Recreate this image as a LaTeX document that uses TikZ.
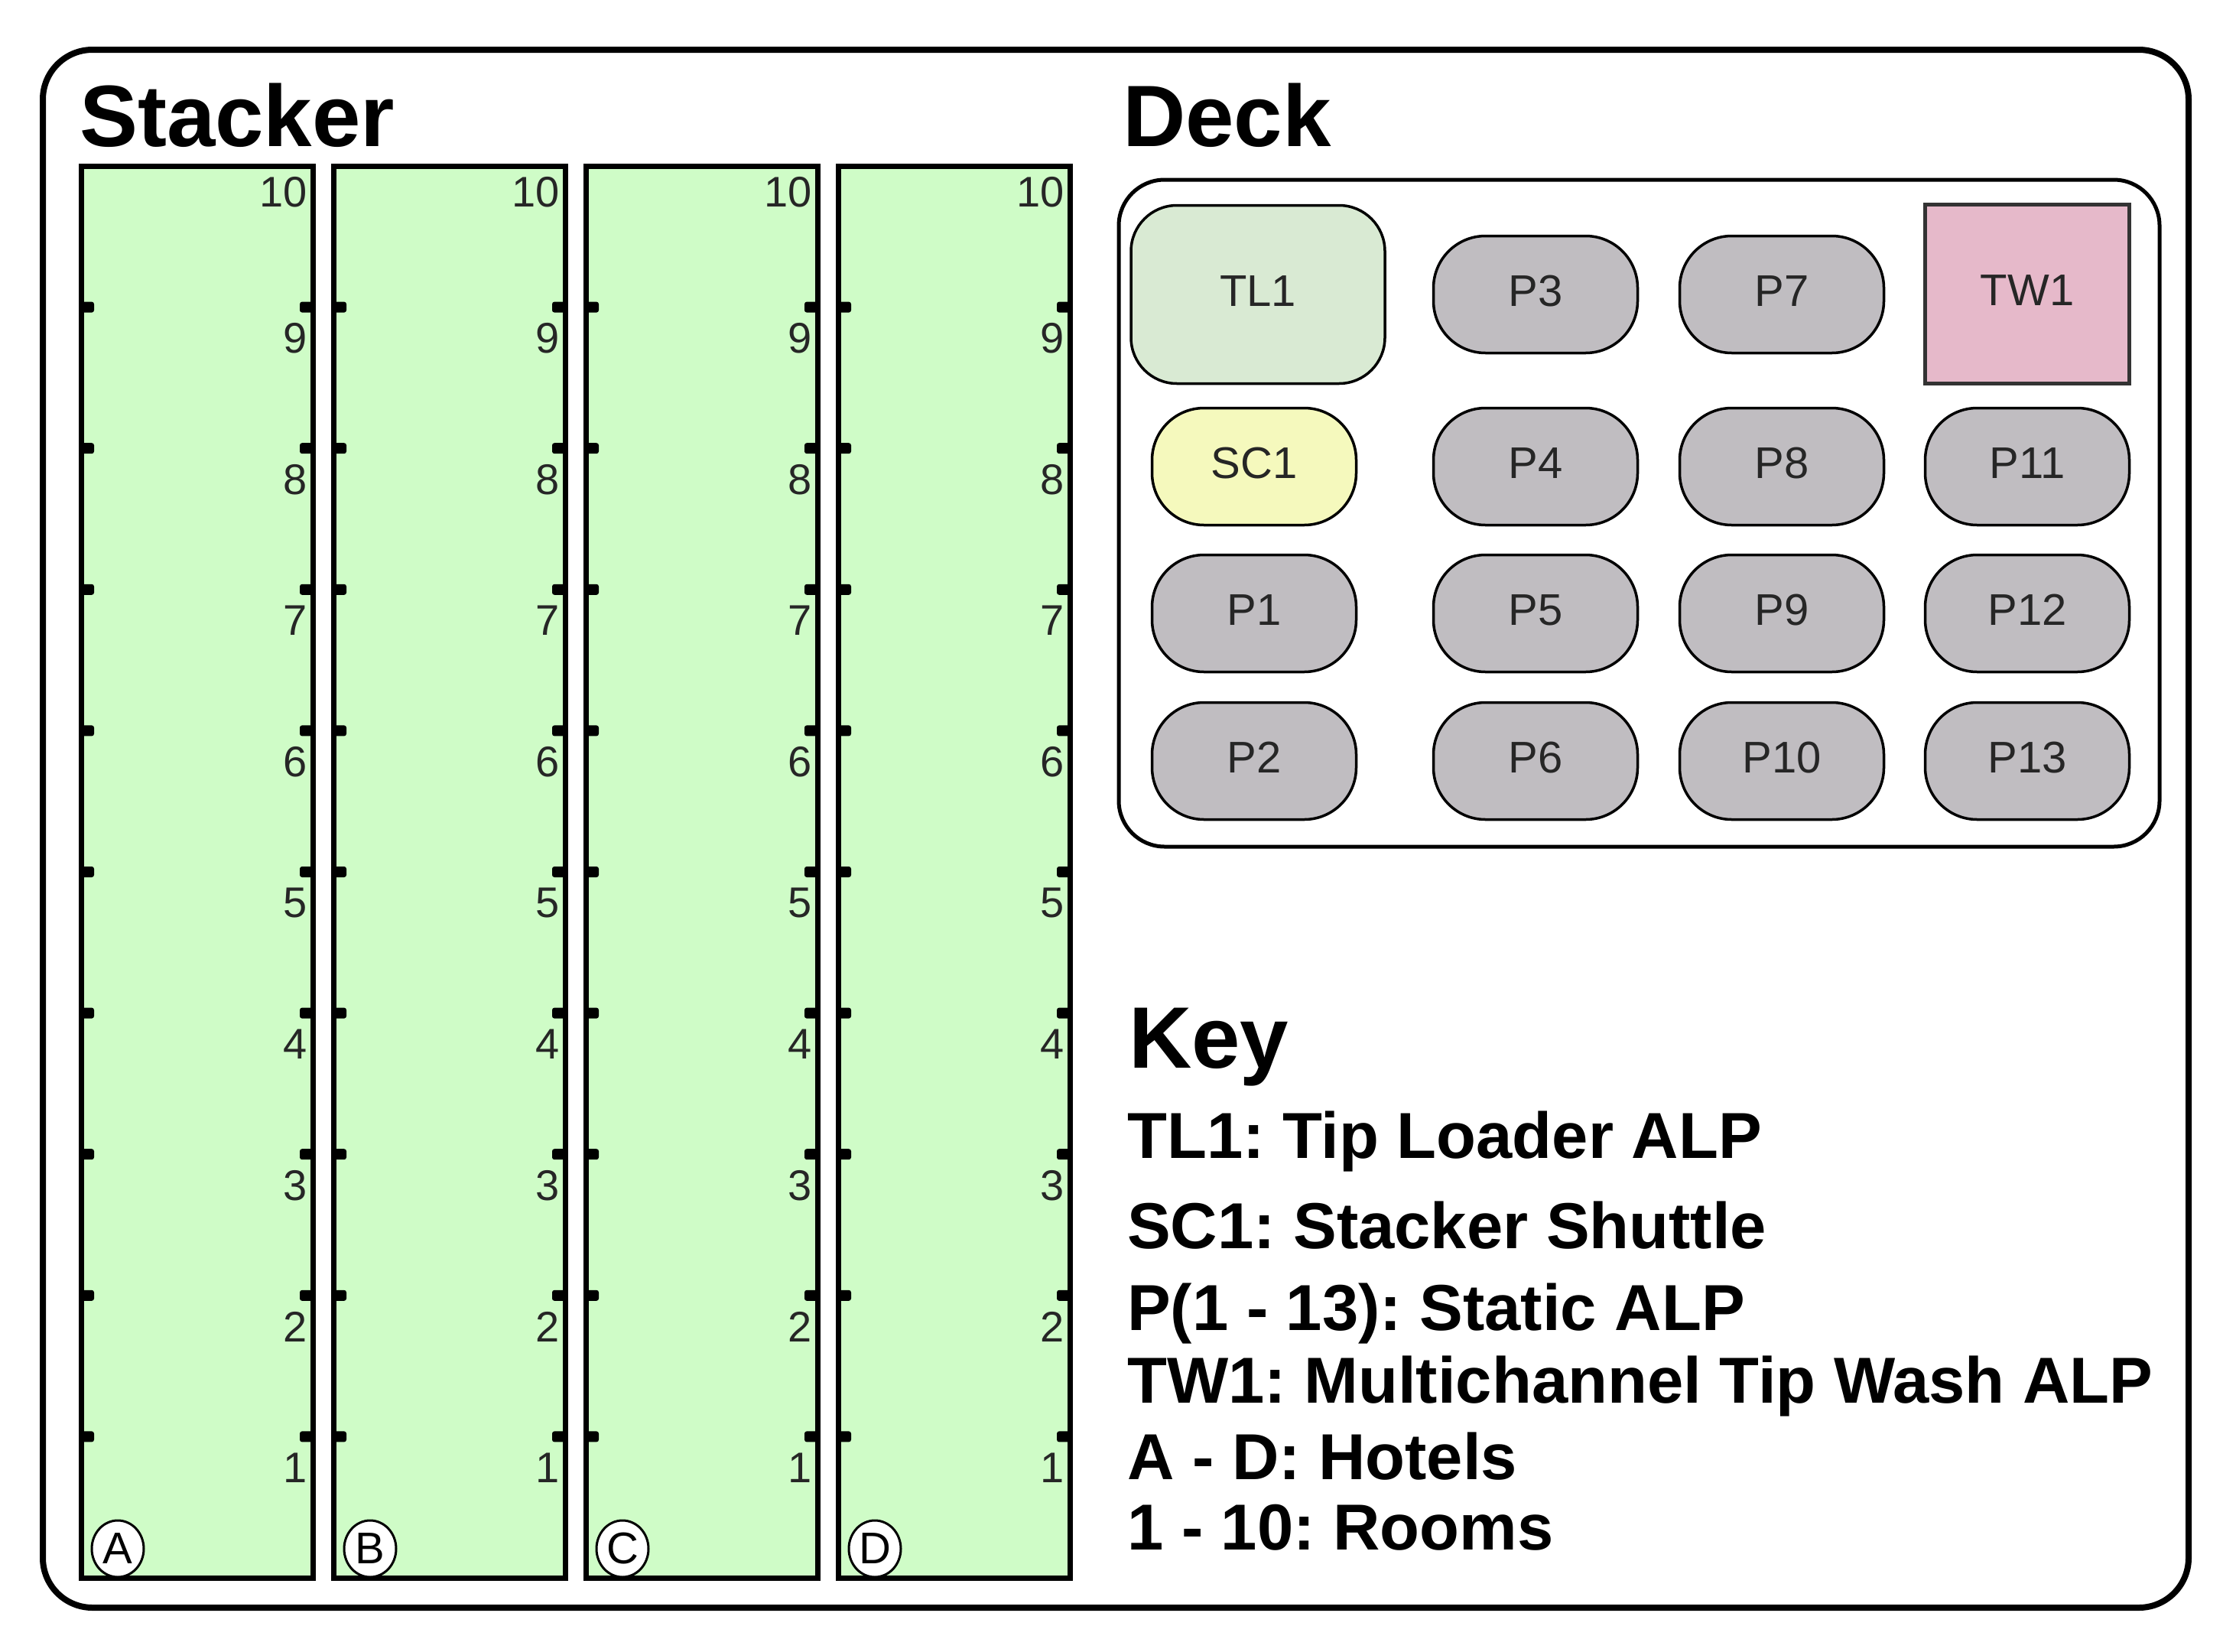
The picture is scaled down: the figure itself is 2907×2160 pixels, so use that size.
\documentclass[tikz,border=0pt]{standalone}
\usepackage{fontspec}
\usetikzlibrary{shapes.geometric}
\setmainfont{Liberation Sans}
\definecolor{stackgreen}{RGB}{207,252,199}
\definecolor{tlgreen}{RGB}{217,234,211}
\definecolor{scyellow}{RGB}{245,249,189}
\definecolor{plategrey}{RGB}{192,189,193}
\definecolor{twpink}{RGB}{230,185,202}
\frenchspacing
\begin{document}
\begin{tikzpicture}[x=1pt,y=-1pt,
  frame/.style={draw=black, line width=8pt, rounded corners=65pt},
  deckframe/.style={draw=black, line width=5pt, rounded corners=60pt},
  hotelbox/.style={draw=black, line width=7pt, fill=stackgreen},
  roomnum/.style={anchor=north east, inner sep=0pt, font=\fontsize{56}{60}\selectfont, text=black!85},
  hotellabel/.style={ellipse, draw=black, line width=3pt, fill=white, minimum width=68pt, minimum height=74pt, inner sep=0pt, font=\fontsize{58}{60}\selectfont},
  titletext/.style={anchor=base west, inner sep=0pt, font=\bfseries\fontsize{114}{120}\selectfont},
  keyline/.style={anchor=base west, inner sep=0pt, font=\bfseries\fontsize{85}{90}\selectfont},
  deckitem/.style={draw=black, line width=3.5pt, font=\fontsize{58}{60}\selectfont, text=black!85, inner sep=0pt, text height=42pt, text depth=12pt},
  plate/.style={deckitem, fill=plategrey, minimum width=267pt, minimum height=153pt, rounded corners=68pt},
]
\fill[white] (0,0) rectangle (2907,2160);
\useasboundingbox (0,0) rectangle (2907,2160);

% outer frame
\draw[frame] (56,65) rectangle (2862,2102);

% titles
\node[titletext] (stacker) at (104,191) {Stacker};
\node[titletext] (deck) at (1468,191) {Deck};

% hotels
\foreach \i/\L in {0/A,1/B,2/C,3/D}{
  \pgfmathsetmacro\xl{106+330*\i}
  \pgfmathsetmacro\xr{409+330*\i}
  \draw[hotelbox] (\xl,217) rectangle (\xr,2063);
  \foreach \k in {1,...,9}{
    \pgfmathsetmacro\yy{217+184.6*\k}
    \fill[rounded corners=3pt] (\xl,\yy-7) rectangle (\xl+17,\yy+7);
    \fill[rounded corners=3pt] (\xr-17,\yy-7) rectangle (\xr,\yy+7);
  }
  \node[roomnum] (room\L10) at (\xr-7,231) {10};
  \foreach \n in {1,...,9}{
    \pgfmathsetmacro\yt{217+184.6*(10-\n)+21}
    \node[roomnum] (room\L\n) at (\xr-7,\yt) {\n};
  }
  \node[hotellabel] (lab\L) at (\xl+48,2025) {\L};
}

% deck
\draw[deckframe] (1463,235) rectangle (2824,1107);
\node[deckitem, fill=tlgreen, minimum width=332pt, minimum height=233pt, rounded corners=60pt] (TL1) at (1645,385) {TL1};
\node[deckitem, fill=twpink, minimum width=267pt, minimum height=234pt, line width=5pt, draw=black!80] (TW1) at (2651,384) {TW1};
\node[plate] (P3) at (2008,385) {P3};
\node[plate] (P7) at (2330,385) {P7};
\node[plate, fill=scyellow] (SC1) at (1640,610) {SC1};
\node[plate] (P4) at (2008,610) {P4};
\node[plate] (P8) at (2330,610) {P8};
\node[plate] (P11) at (2651,610) {P11};
\node[plate] (P1) at (1640,802) {P1};
\node[plate] (P5) at (2008,802) {P5};
\node[plate] (P9) at (2330,802) {P9};
\node[plate] (P12) at (2651,802) {P12};
\node[plate] (P2) at (1640,995) {P2};
\node[plate] (P6) at (2008,995) {P6};
\node[plate] (P10) at (2330,995) {P10};
\node[plate] (P13) at (2651,995) {P13};

% key
\node[titletext] (key) at (1476,1396) {Key};
\node[keyline] (k1) at (1474,1514) {TL1: Tip Loader ALP};
\node[keyline] (k2) at (1474,1632) {SC1: Stacker Shuttle};
\node[keyline] (k3) at (1474,1739) {P(1 - 13): Static ALP};
\node[keyline] (k4) at (1474,1834) {TW1: Multichannel Tip Wash ALP};
\node[keyline] (k5) at (1474,1934) {A - D: Hotels};
\node[keyline] (k6) at (1474,2026) {1 - 10: Rooms};
\end{tikzpicture}
\end{document}
